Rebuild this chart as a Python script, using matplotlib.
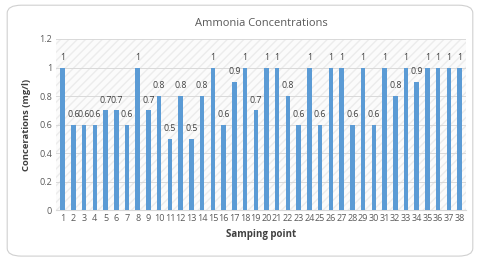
import numpy as np
import matplotlib
matplotlib.use("Agg")
from matplotlib import pyplot as plt
from matplotlib.patches import FancyBboxPatch, Rectangle

points = [str(i) for i in range(1, 39)]
ammonia = [1, 0.6, 0.6, 0.6, 0.7, 0.7, 0.6, 1, 0.7, 0.8,
           0.5, 0.8, 0.5, 0.8, 1, 0.6, 0.9, 1, 0.7, 1,
           1, 0.8, 0.6, 1, 0.6, 1, 1, 0.6, 1, 0.6,
           1, 0.8, 1, 0.9, 1, 1, 1, 1]

plt.rcParams['font.family'] = ['Open Sans', 'DejaVu Sans']
fig = plt.figure(figsize=(4.8, 2.6), dpi=100)

# rounded chart border, kept behind the axes
border = FancyBboxPatch((0.015, 0.015), 0.97, 0.965, boxstyle="round,pad=0,rounding_size=0.03",
                        transform=fig.transFigure, facecolor='white', edgecolor='#d0d0d0', lw=0.8, zorder=-10)
fig.patches.append(border)

ax = fig.add_axes([0.117, 0.192, 0.854, 0.658])
ax.set_facecolor('none')
# hatched plot area background
ax.add_patch(Rectangle((0, 0), 1, 1, transform=ax.transAxes, facecolor='#fbfbfb',
                       edgecolor='#ececec', hatch='////', lw=0, zorder=0))

x = np.arange(len(points))
ax.bar(x, ammonia, width=0.42, color='#5b9bd5', zorder=3)
for xi, v in zip(x, ammonia):
    ax.text(xi, v + 0.04, f"{v:g}", ha='center', va='bottom', fontsize=6.3, color='#404040', zorder=4)

ax.set_xlim(-0.6, len(points) - 0.4)
ax.set_ylim(0, 1.2)
ax.set_yticks(np.arange(0, 1.21, 0.2))
ax.set_yticklabels(["0", "0.2", "0.4", "0.6", "0.8", "1", "1.2"])
ax.set_xticks(x)
ax.set_xticklabels(points)
ax.tick_params(axis='both', length=0, labelsize=6.5, colors='#595959', pad=3)
ax.grid(axis='y', color='#d9d9d9', lw=0.7, zorder=1)
for s in ['top', 'right', 'left']:
    ax.spines[s].set_visible(False)
ax.spines['bottom'].set_color('#d9d9d9')

ax.set_title("Ammonia Concentrations", fontsize=8, color='#595959', pad=9)
ax.set_ylabel("Concerations (mg/l)", fontsize=6.8, fontweight='bold', color='#404040', labelpad=6)
ax.set_xlabel("Samping point", fontsize=7, fontweight='bold', color='#404040', labelpad=4)

plt.savefig("out.png", dpi=100)
